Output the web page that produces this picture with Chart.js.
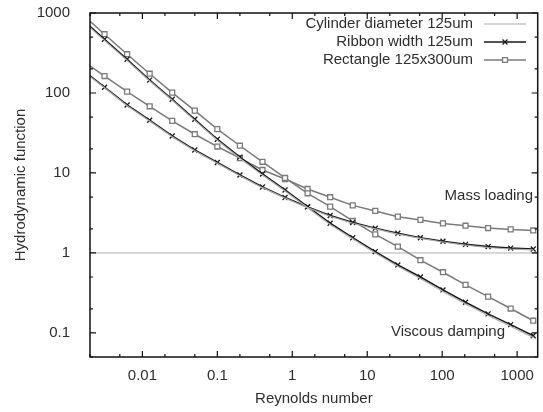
<!DOCTYPE html>
<html lang="en">
<head>
    <meta charset="UTF-8">
    <title>Hydrodynamic function</title>
    <script src="https://cdn.jsdelivr.net/npm/chart.js@4.4.0/dist/chart.umd.min.js"></script>
    <style>
        html, body { margin: 0; padding: 0; background: #fff; }
        #wrap { width: 543px; height: 412px; }
    </style>
</head>
<body>
<div id="wrap"><canvas id="hydroChart"></canvas></div>

<script>
    // Datos
    const reynolds = [0.0015625, 0.003125, 0.00625, 0.0125, 0.025, 0.05, 0.1, 0.2, 0.4, 0.8,
                      1.6, 3.2, 6.4, 12.8, 25.6, 51.2, 102.4, 204.8, 409.6, 819.2, 1638.4];

    const cylViscous = [809, 455, 256, 141, 81, 45.5, 25.6, 15.3, 9.4, 5.93,
                        3.67, 2.27, 1.5, 1.0, 0.68, 0.48, 0.33, 0.231, 0.165, 0.121, 0.088];
    const cylMass = [192, 116, 69.4, 44.7, 28.4, 19.0, 13.2, 9.25, 6.55, 4.84,
                     3.68, 2.88, 2.35, 2.0, 1.72, 1.52, 1.37, 1.25, 1.17, 1.12, 1.09];

    const ribViscous = [834, 469, 264, 145, 83.4, 46.9, 26.4, 15.8, 9.72, 6.13,
                        3.79, 2.35, 1.55, 1.04, 0.708, 0.501, 0.345, 0.242, 0.173, 0.127, 0.0923];
    const ribMass = [196, 118, 70.8, 45.6, 29.0, 19.4, 13.5, 9.44, 6.68, 4.94,
                     3.76, 2.94, 2.40, 2.04, 1.76, 1.55, 1.40, 1.28, 1.20, 1.15, 1.12];

    const rectViscous = [966, 543, 305, 174, 101, 60.1, 35.3, 21.9, 13.8, 8.66,
                         5.57, 3.79, 2.51, 1.71, 1.20, 0.811, 0.574, 0.398, 0.284, 0.202, 0.142];
    const rectMass = [256, 163, 104, 68.2, 44.7, 30.5, 21.4, 15.3, 10.9, 8.4,
                      6.31, 4.97, 3.93, 3.35, 2.84, 2.59, 2.34, 2.19, 2.05, 1.97, 1.91];

    const xTickValues = [0.01, 0.1, 1, 10, 100, 1000];
    const yTickValues = [0.1, 1, 10, 100, 1000];
    const refLevel = 1;

    const legendNames = ['Cylinder diameter 125um', 'Ribbon width 125um', 'Rectangle 125x300um'];
    const regionLabels = ['Mass loading', 'Viscous damping'];
</script>

<script>
document.addEventListener('DOMContentLoaded', function() {
    const FONT = "'Liberation Sans', Arial, sans-serif";
    const TEXT = '#2e2e2e';
    const COL_CYL = '#aaaaaa';
    const COL_RIB = '#1a1a1a';
    const COL_RECT = '#7a7a7a';

    function pts(vals) {
        return vals.map((v, i) => ({ x: reynolds[i], y: v }));
    }

    function serie(vals, color, style, width) {
        return {
            data: pts(vals),
            borderColor: color,
            borderWidth: width,
            pointStyle: style,
            pointRadius: style ? 3.5 : 0,
            pointBorderWidth: 1.3,
            pointBorderColor: color,
            pointBackgroundColor: '#ffffff',
            tension: 0
        };
    }

    // ticks hacia adentro, marco, linea de referencia, leyenda y rotulos
    const decoraciones = {
        id: 'decoraciones',
        beforeDatasetsDraw(chart) {
            const { ctx, chartArea: a, scales } = chart;
            const yRef = scales.y.getPixelForValue(refLevel);
            ctx.save();
            ctx.strokeStyle = '#b0b0b0';
            ctx.lineWidth = 1;
            ctx.beginPath();
            ctx.moveTo(a.left, yRef);
            ctx.lineTo(a.right, yRef);
            ctx.stroke();
            ctx.restore();
        },
        afterDatasetsDraw(chart) {
            const { ctx, chartArea: a, scales } = chart;
            ctx.save();
            ctx.strokeStyle = '#111';
            ctx.lineWidth = 1.2;

            const mults = [1, 2, 5];
            // eje x
            for (let e = -3; e <= 3; e++) {
                mults.forEach(m => {
                    const v = m * Math.pow(10, e);
                    if (v < scales.x.min || v > scales.x.max) return;
                    const px = scales.x.getPixelForValue(v);
                    const len = m === 1 ? 6 : 3;
                    ctx.beginPath();
                    ctx.moveTo(px, a.bottom); ctx.lineTo(px, a.bottom - len);
                    ctx.moveTo(px, a.top); ctx.lineTo(px, a.top + len);
                    ctx.stroke();
                });
            }
            // eje y
            for (let e = -2; e <= 3; e++) {
                mults.forEach(m => {
                    const v = m * Math.pow(10, e);
                    if (v < scales.y.min || v > scales.y.max) return;
                    const py = scales.y.getPixelForValue(v);
                    const len = m === 1 ? 6 : 3;
                    ctx.beginPath();
                    ctx.moveTo(a.left, py); ctx.lineTo(a.left + len, py);
                    ctx.moveTo(a.right, py); ctx.lineTo(a.right - len, py);
                    ctx.stroke();
                });
            }

            ctx.lineWidth = 1.5;
            ctx.strokeRect(a.left, a.top, a.right - a.left, a.bottom - a.top);

            // leyenda
            ctx.font = '15px ' + FONT;
            ctx.fillStyle = TEXT;
            ctx.textAlign = 'right';
            ctx.textBaseline = 'middle';
            const sets = [chart.data.datasets[0], chart.data.datasets[2], chart.data.datasets[4]];
            legendNames.forEach((name, i) => {
                const yy = 24 + i * 18;
                ctx.fillText(name, 473, yy);
                const ds = sets[i];
                ctx.strokeStyle = ds.borderColor;
                ctx.lineWidth = ds.borderWidth;
                ctx.beginPath();
                ctx.moveTo(484, yy);
                ctx.lineTo(526, yy);
                ctx.stroke();
                if (ds.pointStyle) {
                    ctx.fillStyle = '#fff';
                    ctx.strokeStyle = ds.borderColor;
                    ctx.lineWidth = ds.pointBorderWidth;
                    Chart.helpers.drawPoint(ctx, {
                        pointStyle: ds.pointStyle,
                        radius: 3.5,
                        borderWidth: ds.pointBorderWidth
                    }, 505, yy);
                    ctx.fillStyle = TEXT;
                }
            });

            ctx.fillStyle = TEXT;
            ctx.fillText(regionLabels[0], 533, 196);
            ctx.fillText(regionLabels[1], 505, 332);
            ctx.restore();
        }
    };

    new Chart(document.getElementById('hydroChart'), {
        type: 'line',
        data: {
            datasets: [
                serie(cylViscous, COL_CYL, false, 1.2),
                serie(cylMass, COL_CYL, false, 1.2),
                serie(ribViscous, COL_RIB, 'crossRot', 1.6),
                serie(ribMass, COL_RIB, 'crossRot', 1.6),
                serie(rectViscous, COL_RECT, 'rect', 1.5),
                serie(rectMass, COL_RECT, 'rect', 1.5)
            ]
        },
        options: {
            responsive: true,
            maintainAspectRatio: false,
            animation: false,
            layout: { padding: { top: 13, right: 3, left: 0, bottom: 0 } },
            plugins: {
                legend: { display: false },
                tooltip: { enabled: false }
            },
            scales: {
                x: {
                    type: 'logarithmic',
                    min: 0.002,
                    max: 1880,
                    grid: { display: false },
                    border: { display: false },
                    afterBuildTicks: s => { s.ticks = xTickValues.map(v => ({ value: v })); },
                    afterFit: s => { s.height = 55; s.paddingLeft = 0; s.paddingRight = 0; },
                    ticks: {
                        autoSkip: false,
                        maxRotation: 0,
                        padding: 2,
                        color: TEXT,
                        font: { family: FONT, size: 15 },
                        callback: v => String(v)
                    },
                    title: {
                        display: true,
                        text: 'Reynolds number',
                        color: TEXT,
                        font: { family: FONT, size: 15 },
                        padding: { top: 0, bottom: 4 }
                    }
                },
                y: {
                    type: 'logarithmic',
                    min: 0.05,
                    max: 1000,
                    grid: { display: false },
                    border: { display: false },
                    afterBuildTicks: s => { s.ticks = yTickValues.map(v => ({ value: v })); },
                    afterFit: s => { s.width = 90; s.paddingTop = 0; s.paddingBottom = 0; },
                    ticks: {
                        autoSkip: false,
                        padding: 12,
                        color: TEXT,
                        font: { family: FONT, size: 15 },
                        callback: v => String(v)
                    },
                    title: {
                        display: true,
                        text: 'Hydrodynamic function',
                        color: TEXT,
                        font: { family: FONT, size: 15 },
                        padding: { top: 12, bottom: 0 }
                    }
                }
            }
        },
        plugins: [decoraciones]
    });
});
</script>
</body>
</html>
